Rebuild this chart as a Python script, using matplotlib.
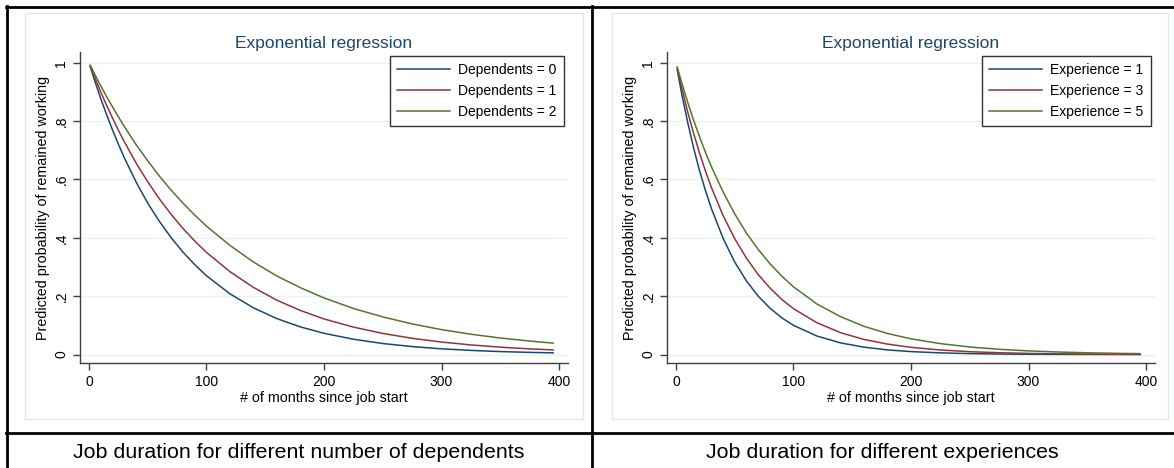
import matplotlib
matplotlib.use("Agg")
import matplotlib.pyplot as plt
from matplotlib.patches import Rectangle
from matplotlib.lines import Line2D

plt.rcParams['font.family'] = ['Liberation Sans', 'DejaVu Sans']

months = [1, 5, 10, 15, 20, 25, 30, 40, 50, 60, 70, 80, 90, 100, 120, 140,
          160, 180, 200, 225, 250, 275, 300, 325, 350, 375, 395]

# left chart: number of dependents
dep_labels = ["Dependents = 0", "Dependents = 1", "Dependents = 2"]
dep0 = [0.987, 0.937, 0.877, 0.822, 0.770, 0.721, 0.675, 0.592, 0.519, 0.456,
        0.400, 0.351, 0.308, 0.270, 0.208, 0.160, 0.123, 0.0946, 0.0728,
        0.0525, 0.0378, 0.0273, 0.0196, 0.0142, 0.0102, 0.0074, 0.0057]
dep1 = [0.990, 0.949, 0.900, 0.854, 0.811, 0.769, 0.730, 0.657, 0.592, 0.533,
        0.480, 0.432, 0.389, 0.350, 0.284, 0.230, 0.186, 0.151, 0.122,
        0.0942, 0.0724, 0.0557, 0.0429, 0.0330, 0.0253, 0.0195, 0.0158]
dep2 = [0.992, 0.960, 0.921, 0.884, 0.849, 0.815, 0.782, 0.720, 0.664, 0.611,
        0.563, 0.519, 0.478, 0.440, 0.374, 0.317, 0.269, 0.229, 0.194,
        0.158, 0.129, 0.105, 0.0854, 0.0696, 0.0567, 0.0462, 0.0392]

# right chart: experience
exp_labels = ["Experience = 1", "Experience = 3", "Experience = 5"]
exp1 = [0.977, 0.891, 0.795, 0.708, 0.631, 0.563, 0.502, 0.399, 0.317, 0.252,
        0.200, 0.159, 0.126, 0.100, 0.0633, 0.0400, 0.0252, 0.0159, 0.0101,
        0.0057, 0.0032, 0.0018, 0.0010, 0.0006, 0.0003, 0.0002, 0.0001]
exp3 = [0.982, 0.912, 0.831, 0.758, 0.691, 0.630, 0.574, 0.477, 0.397, 0.330,
        0.274, 0.228, 0.189, 0.157, 0.109, 0.0750, 0.0518, 0.0358, 0.0247,
        0.0156, 0.0098, 0.0062, 0.0039, 0.0024, 0.0015, 0.0010, 0.0007]
exp5 = [0.986, 0.930, 0.864, 0.803, 0.747, 0.694, 0.645, 0.558, 0.482, 0.416,
        0.360, 0.311, 0.269, 0.232, 0.173, 0.130, 0.0967, 0.0722, 0.0539,
        0.0374, 0.0260, 0.0180, 0.0125, 0.0087, 0.0060, 0.0042, 0.0031]

x_ticks = [0, 100, 200, 300, 400]
y_ticks = [0, 0.2, 0.4, 0.6, 0.8, 1]
y_ticklabels = ["0", ".2", ".4", ".6", ".8", "1"]
captions = ["Job duration for different number of dependents",
            "Job duration for different experiences"]

colors = ["#1a476f", "#90353b", "#55752f"]

W, H = 1174, 468
fig = plt.figure(figsize=(W / 100, H / 100), dpi=100)


def box(x0, y0, x1, y1):
    # pixel box (top-left origin) -> figure fraction rect
    return [x0 / W, 1 - y1 / H, (x1 - x0) / W, (y1 - y0) / H]


def draw_chart(panel, axrect, series, labels):
    # light graph region border, kept behind the axes
    px = box(*panel)
    fig.add_artist(Rectangle((px[0], px[1]), px[2], px[3], transform=fig.transFigure,
                             facecolor="white", edgecolor="#e2e9e9", lw=1, zorder=-5))
    ax = fig.add_axes(box(*axrect))
    ax.patch.set_alpha(0)
    for vals, c, lab in zip(series, colors, labels):
        ax.plot(months, vals, color=c, lw=1.1, label=lab)
    ax.set_xlim(-7.4, 407.4)
    ax.set_ylim(-0.029, 1.037)
    ax.set_xticks(x_ticks)
    ax.set_yticks(y_ticks)
    ax.set_yticklabels(y_ticklabels, rotation=90, va="center")
    ax.tick_params(labelsize=10, length=5, width=1, color="#404040", pad=3.5)
    for s in ["top", "right"]:
        ax.spines[s].set_visible(False)
    for s in ["left", "bottom"]:
        ax.spines[s].set_color("#404040")
        ax.spines[s].set_linewidth(1)
    ax.yaxis.grid(True, color="#eaf2f3", lw=1)
    ax.set_axisbelow(True)
    ax.set_xlabel("# of months since job start", fontsize=10.3, labelpad=1.5)
    ax.set_ylabel("Predicted probability of remained working", fontsize=10.3, labelpad=3)
    ax.set_title("Exponential regression", color="#1a476f", fontsize=12.5, pad=3)
    leg = ax.legend(loc="upper right", fontsize=10, frameon=True, fancybox=False,
                    edgecolor="black", handlelength=3.8, borderaxespad=0.3,
                    labelspacing=0.5, handletextpad=0.6, borderpad=0.5)
    leg.get_frame().set_linewidth(1)
    return ax


draw_chart((25, 13, 583, 419), (80.3, 52, 567.7, 363), [dep0, dep1, dep2], dep_labels)
draw_chart((612, 13, 1168, 419), (667.3, 52, 1154.7, 363), [exp1, exp3, exp5], exp_labels)

# table lines round the two charts
def hline(y, x0, x1):
    fig.add_artist(Line2D([x0 / W, x1 / W], [1 - y / H, 1 - y / H], color="black", lw=2))


def vline(x, y0, y1):
    fig.add_artist(Line2D([x / W, x / W], [1 - y0 / H, 1 - y1 / H], color="black", lw=2))


hline(7, 6, W)
hline(432.5, 6, W)
vline(7, 6, H)
vline(591.5, 6, H)

fig.text(299 / W, 1 - 452 / H, captions[0], ha="center", va="center", fontsize=15.4)
fig.text(882 / W, 1 - 452 / H, captions[1], ha="center", va="center", fontsize=15.4)

fig.savefig("out.png", dpi=100)
